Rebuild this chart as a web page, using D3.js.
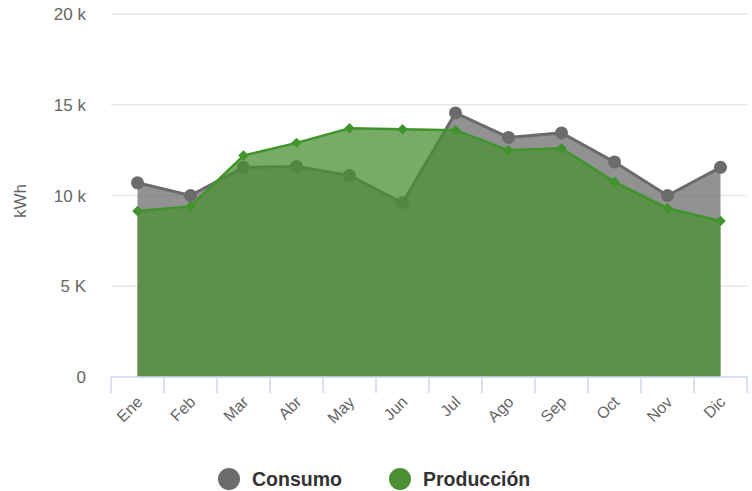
<!DOCTYPE html>
<html>
<head>
<meta charset="utf-8">
<script src="https://cdn.jsdelivr.net/npm/d3@7"></script>
<style>
  body { margin: 0; background: #fff; }
  svg { font-family: "Liberation Sans", Arial, sans-serif; }
</style>
</head>
<body>
<svg width="752" height="491"></svg>
<script>
var months = ["Ene", "Feb", "Mar", "Abr", "May", "Jun", "Jul", "Ago", "Sep", "Oct", "Nov", "Dic"];
var consumo = [10700, 10000, 11550, 11600, 11100, 9600, 14550, 13200, 13450, 11850, 10000, 11550];
var produccion = [9150, 9400, 12200, 12900, 13700, 13650, 13600, 12500, 12600, 10750, 9300, 8600];
var yTicks = [0, 5000, 10000, 15000, 20000];
var yTickLabels = ["0", "5 K", "10 k", "15 k", "20 k"];

var svg = d3.select("svg");
var plotLeft = 111, plotRight = 747, plotTop = 14, plotBottom = 377;

var x = d3.scaleBand().domain(months).range([plotLeft, plotRight]);
var y = d3.scaleLinear().domain([0, 20000]).range([plotBottom, plotTop]);
var cx = function(d, i) { return x(months[i]) + x.bandwidth() / 2; };

// grid
svg.append("g")
  .selectAll("line")
  .data(yTicks.slice(1))
  .enter()
  .append("line")
  .attr("x1", plotLeft)
  .attr("x2", plotRight)
  .attr("y1", function(d) { return y(d); })
  .attr("y2", function(d) { return y(d); })
  .attr("stroke", "#e6e6e6")
  .attr("stroke-width", 1.5);

// y labels
svg.append("g")
  .selectAll("text")
  .data(yTicks)
  .enter()
  .append("text")
  .attr("x", 86)
  .attr("y", function(d) { return y(d) + 6; })
  .attr("text-anchor", "end")
  .attr("font-size", 17)
  .attr("fill", "#666")
  .text(function(d, i) { return yTickLabels[i]; });

svg.append("text")
  .attr("transform", "translate(26,201) rotate(-90)")
  .attr("text-anchor", "middle")
  .attr("font-size", 17)
  .attr("fill", "#666")
  .text("kWh");

var area = d3.area()
  .x(cx)
  .y0(plotBottom)
  .y1(function(d) { return y(d); });
var line = d3.line()
  .x(cx)
  .y(function(d) { return y(d); });

// consumo
svg.append("path")
  .datum(consumo)
  .attr("d", area)
  .attr("fill", "#6e6e6e")
  .attr("fill-opacity", 0.75);
svg.append("path")
  .datum(consumo)
  .attr("d", line)
  .attr("fill", "none")
  .attr("stroke", "#6b6b6b")
  .attr("stroke-width", 3);
svg.append("g")
  .selectAll("circle")
  .data(consumo)
  .enter()
  .append("circle")
  .attr("cx", cx)
  .attr("cy", function(d) { return y(d); })
  .attr("r", 6.5)
  .attr("fill", "#6b6b6b");

// produccion
svg.append("path")
  .datum(produccion)
  .attr("d", area)
  .attr("fill", "#4b8f33")
  .attr("fill-opacity", 0.75);
svg.append("path")
  .datum(produccion)
  .attr("d", line)
  .attr("fill", "none")
  .attr("stroke", "#3f942c")
  .attr("stroke-width", 2.5);
svg.append("g")
  .selectAll("path")
  .data(produccion)
  .enter()
  .append("path")
  .attr("d", d3.symbol().type(d3.symbolDiamond2).size(70))
  .attr("transform", function(d, i) { return "translate(" + cx(d, i) + "," + y(d) + ")"; })
  .attr("fill", "#3f942c");

// x axis
var xAxis = svg.append("g");
xAxis.append("line")
  .attr("x1", plotLeft).attr("x2", plotRight)
  .attr("y1", plotBottom).attr("y2", plotBottom)
  .attr("stroke", "#ccd6eb").attr("stroke-width", 1.5);
xAxis.selectAll("line.tick")
  .data(d3.range(months.length + 1))
  .enter()
  .append("line")
  .attr("class", "tick")
  .attr("x1", function(i) { return plotLeft + i * x.bandwidth(); })
  .attr("x2", function(i) { return plotLeft + i * x.bandwidth(); })
  .attr("y1", plotBottom)
  .attr("y2", plotBottom + 16)
  .attr("stroke", "#ccd6eb")
  .attr("stroke-width", 1.5);
xAxis.selectAll("text")
  .data(months)
  .enter()
  .append("text")
  .attr("transform", function(d) { return "translate(" + (x(d) + x.bandwidth() / 2 + 6) + "," + (plotBottom + 26) + ") rotate(-45)"; })
  .attr("text-anchor", "end")
  .attr("font-size", 16)
  .attr("fill", "#666")
  .text(function(d) { return d; });

// legend
var legend = [
  { name: "Consumo", color: "#6b6b6b", x: 229 },
  { name: "Producción", color: "#4b8f33", x: 400 }
];
var lg = svg.append("g")
  .selectAll("g")
  .data(legend)
  .enter()
  .append("g")
  .attr("transform", function(d) { return "translate(" + d.x + ",479)"; });
lg.append("circle").attr("r", 11).attr("fill", function(d) { return d.color; });
lg.append("text")
  .attr("x", 23)
  .attr("y", 7)
  .attr("font-size", 19.5)
  .attr("font-weight", "bold")
  .attr("fill", "#333")
  .text(function(d) { return d.name; });
</script>
</body>
</html>
